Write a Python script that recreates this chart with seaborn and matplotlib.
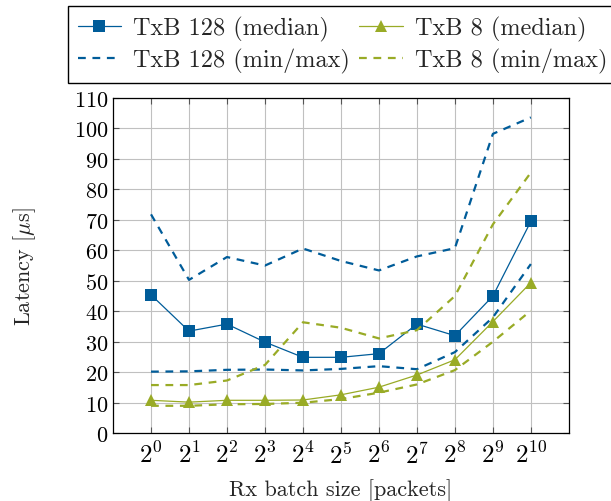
import numpy as np
import pandas as pd
import matplotlib.pyplot as plt
import seaborn as sns

sns.set_style("whitegrid")
plt.rcParams['font.family'] = ['cmr10', 'DejaVu Serif']
plt.rcParams['mathtext.fontset'] = 'cm'
plt.rcParams['axes.formatter.use_mathtext'] = True
plt.rcParams['font.size'] = 16

# batch size exponents (2^0 .. 2^10)
exps = list(range(11))
tick_labels = [r'$2^{%d}$' % e for e in exps]

txb128_med = [45.4, 33.5, 35.8, 29.9, 24.9, 24.9, 26.1, 35.8, 32.0, 45.0, 69.5]
txb128_min = [20.2, 20.3, 20.8, 20.9, 20.6, 21.1, 22.0, 21.0, 26.6, 38.0, 55.5]
txb128_max = [71.8, 50.3, 57.8, 55.0, 60.6, 56.5, 53.4, 58.0, 60.7, 98.2, 103.6]

txb8_med = [10.8, 10.2, 10.8, 10.8, 10.9, 12.6, 15.1, 19.1, 24.1, 36.6, 49.4]
txb8_min = [9.0, 9.0, 9.5, 9.6, 10.0, 11.2, 13.3, 16.0, 20.7, 30.0, 40.2]
txb8_max = [15.8, 15.8, 17.3, 22.4, 36.4, 34.6, 31.1, 33.8, 45.0, 68.5, 85.5]

blue = '#005c99'
green = '#99ab26'

fig = plt.figure(figsize=(6.11, 5.02), dpi=100)
ax = fig.add_axes([0.185, 0.135, 0.746, 0.668])

sns.lineplot(x=exps, y=txb128_med, ax=ax, color=blue, lw=0.9, marker='s',
             markersize=9, markeredgewidth=0, label='TxB 128 (median)')
sns.lineplot(x=exps, y=txb128_min, ax=ax, color=blue, lw=1.6,
             linestyle=(0, (3.5, 3)), label='TxB 128 (min/max)')
sns.lineplot(x=exps, y=txb128_max, ax=ax, color=blue, lw=1.6,
             linestyle=(0, (3.5, 3)))
sns.lineplot(x=exps, y=txb8_med, ax=ax, color=green, lw=0.9, marker='^',
             markersize=9, markeredgewidth=0, label='TxB 8 (median)')
sns.lineplot(x=exps, y=txb8_min, ax=ax, color=green, lw=1.6,
             linestyle=(0, (3.5, 3)), label='TxB 8 (min/max)')
sns.lineplot(x=exps, y=txb8_max, ax=ax, color=green, lw=1.6,
             linestyle=(0, (3.5, 3)))

ax.set_xlim(-1, 11)
ax.set_ylim(0, 110)
ax.set_xticks(exps)
ax.set_xticklabels(tick_labels)
ax.set_yticks(range(0, 111, 10))
ax.grid(True, color='#c0c0c0', lw=0.8)
for s in ax.spines.values():
    s.set_color('black')
    s.set_linewidth(0.9)
ax.tick_params(direction='in', length=4, width=0.8, top=True, right=True,
               bottom=True, left=True, color='#555555', labelcolor='black')
ax.tick_params(axis='x', labelsize=18, pad=6)
ax.set_xlabel('Rx batch size [packets]', labelpad=8)
ax.set_ylabel(r'Latency [$\mu$s]', labelpad=26)

handles, labels = ax.get_legend_handles_labels()
ax.get_legend().remove()
fig.legend(handles, labels,
           loc='upper left', bbox_to_anchor=(0.111, 0.986), ncol=2,
           frameon=True, fancybox=False, edgecolor='black', framealpha=1,
           fontsize=17.5, handlelength=1.8, columnspacing=0.35, borderpad=0.4,
           labelspacing=0.3, handletextpad=0.5, borderaxespad=0)

fig.savefig('out.png', dpi=100)
